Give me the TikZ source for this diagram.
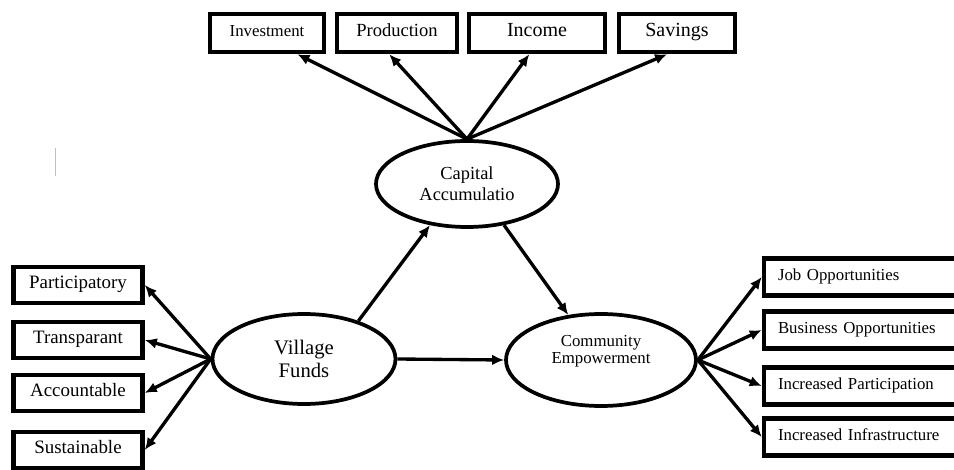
\documentclass[tikz,border=0pt]{standalone}
\usepackage{fontspec}
\setmainfont{Liberation Serif}
\usetikzlibrary{shapes.geometric,arrows.meta}

\begin{document}
\begin{tikzpicture}[x=0.75pt,y=-0.75pt,
  box/.style={draw,line width=3.4pt,minimum height=28.5pt,inner sep=0pt,text height=0.7em,text depth=0.2em},
  sidebox/.style={box,minimum width=96.75pt,minimum height=27pt,font=\fontsize{14.2}{16}\selectfont},
  wide/.style={draw,line width=3.4pt,minimum height=27.75pt,inner ysep=0pt,inner xsep=10.5pt,
    text width=150pt,align=left,text height=0.7em,text depth=0.2em,font=\fontsize{12.6}{14}\selectfont},
  oval/.style={draw,ellipse,line width=2.8pt,inner sep=0pt,align=center},
  arr/.style={->,line width=2.5pt},
  >={Latex[length=9pt,width=8pt]}]

\useasboundingbox (0,0) rectangle (954,470);

% top row
\node[box,minimum width=85.5pt,font=\fontsize{12.6}{14}\selectfont] (inv) at (267,33) {Investment};
\node[box,minimum width=90pt,font=\fontsize{13.9}{16}\selectfont] (prod) at (397,33) {Production};
\node[box,minimum width=102pt,font=\fontsize{15}{17}\selectfont] (inc) at (537,33) {Income};
\node[box,minimum width=87pt,font=\fontsize{15}{17}\selectfont] (sav) at (677,33) {Savings};

% ellipses
\node[oval,minimum width=136.5pt,minimum height=64.5pt,font=\fontsize{13.8}{16}\selectfont] (cap) at (467,184) {Capital\\Accumulatio};
\node[oval,minimum width=137.25pt,minimum height=67.5pt,font=\fontsize{15.5}{17}\selectfont] (vf) at (304,359) {Village\\Funds};
\node[oval,minimum width=142.5pt,minimum height=69pt,font=\fontsize{12.6}{13}\selectfont] (ce) at (601,360) {Community\\Empowerment\\[3pt]};

% left column
\node[sidebox] (part) at (78,285) {Participatory};
\node[sidebox] (trans) at (78,340) {Transparant};
\node[sidebox] (acc) at (78,393) {Accountable};
\node[sidebox] (sust) at (78,450) {Sustainable};

% right column
\node[wide] (job) at (878,277) {Job Opportunities};
\node[wide] (bus) at (878,330) {Business Opportunities};
\node[wide] (incp) at (878,386) {Increased Participation};
\node[wide] (infra) at (878,437) {Increased Infrastructure};

\draw[gray!50,line width=0.75pt] (55,148) -- (55,176);

\draw[arr] (cap.north) -- (inv.-35);
\draw[arr] (cap.north) -- (prod.-110);
\draw[arr] (cap.north) -- (inc.-110);
\draw[arr] (cap.north) -- (sav.-115);

\draw[arr] (vf.west) -- (part.east);
\draw[arr] (vf.west) -- (trans.east);
\draw[arr] (vf.west) -- (acc.east);
\draw[arr] (vf.west) -- (sust.east);

\draw[arr] (vf.35) -- (cap.-132);
\draw[arr] (cap.-48) -- (ce.126);
\draw[arr] (vf.east) -- (ce.west);

\draw[arr] (ce.east) -- (job.west);
\draw[arr] (ce.east) -- (bus.west);
\draw[arr] (ce.east) -- (incp.west);
\draw[arr] (ce.east) -- (infra.west);

\end{tikzpicture}
\end{document}
